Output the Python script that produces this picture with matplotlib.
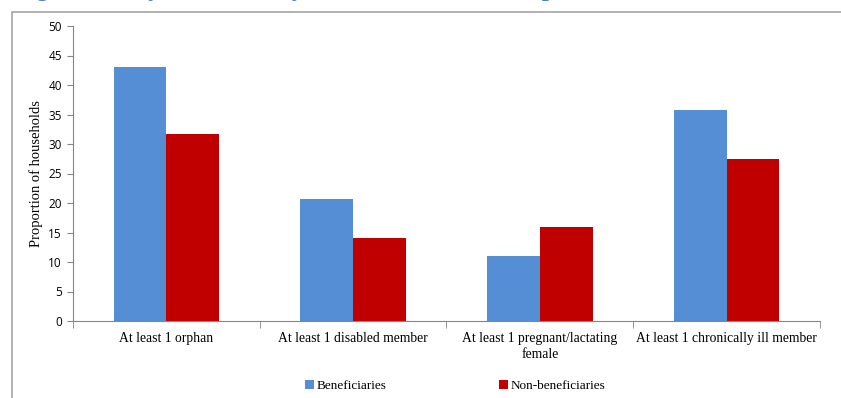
import matplotlib.pyplot as plt
import numpy as np
from matplotlib.patches import Rectangle

categories = ['At least 1 orphan', 'At least 1 disabled member',
              'At least 1 pregnant/lactating\nfemale', 'At least 1 chronically ill member']
beneficiaries = [43.0, 20.7, 11.0, 35.8]
non_beneficiaries = [31.7, 14.0, 15.9, 27.4]
yticks = [0, 5, 10, 15, 20, 25, 30, 35, 40, 45, 50]

serif = ['Liberation Serif', 'DejaVu Serif']
sans = ['Open Sans', 'DejaVu Sans']

fig = plt.figure(figsize=(8.41, 3.98), dpi=100)
ax = fig.add_axes([73 / 841, 1 - 321 / 398, 747 / 841, 295 / 398])

x = np.arange(len(categories))
w = 0.283
ax.bar(x - w / 2, beneficiaries, w, color='#558ed5', label='Beneficiaries')
ax.bar(x + w / 2, non_beneficiaries, w, color='#c00000', label='Non-beneficiaries')

ax.set_xlim(-0.5, len(categories) - 0.5)
ax.set_ylim(0, 50)
ax.set_yticks(yticks)
ax.set_yticklabels([str(v) for v in yticks], fontfamily=sans, fontsize=8.5)

# category labels centred, tick marks on the boundaries
ax.set_xticks(x)
ax.set_xticklabels(categories, fontfamily=serif, fontsize=9.8, linespacing=1.25)
ax.tick_params(axis='x', length=0, pad=8)
ax.set_xticks(np.arange(len(categories) + 1) - 0.5, minor=True)
ax.tick_params(axis='x', which='minor', length=5, color='#868686', direction='out')
ax.tick_params(axis='y', length=4, color='#868686', pad=4)

for s in ['top', 'right']:
    ax.spines[s].set_visible(False)
for s in ['left', 'bottom']:
    ax.spines[s].set_color('#868686')
    ax.spines[s].set_linewidth(0.8)

ax.set_ylabel('Proportion of households', fontfamily=serif, fontsize=10.5, labelpad=4)

fig.legend(loc='center', bbox_to_anchor=(455 / 841, 1 - 386 / 398), ncol=2, frameon=False,
           prop={'family': serif, 'size': 9.5}, handlelength=0.7, handleheight=0.7,
           handletextpad=0.2, columnspacing=8.5)

# chart frame and heading that runs off the top edge
fig.patches.append(Rectangle((12 / 841, -0.1), 1.1, 1 - 12 / 398 + 0.1, transform=fig.transFigure,
                             fill=False, edgecolor='#a6a6a6', linewidth=1.2))
fig.text(14 / 841, 1 + 4 / 398, 'Figure 4: Key vulnerability characteristics of sampled households',
         fontfamily=serif, fontweight='bold', fontsize=18, color='#4f81bd', va='baseline')

fig.savefig('out.png', dpi=100)
